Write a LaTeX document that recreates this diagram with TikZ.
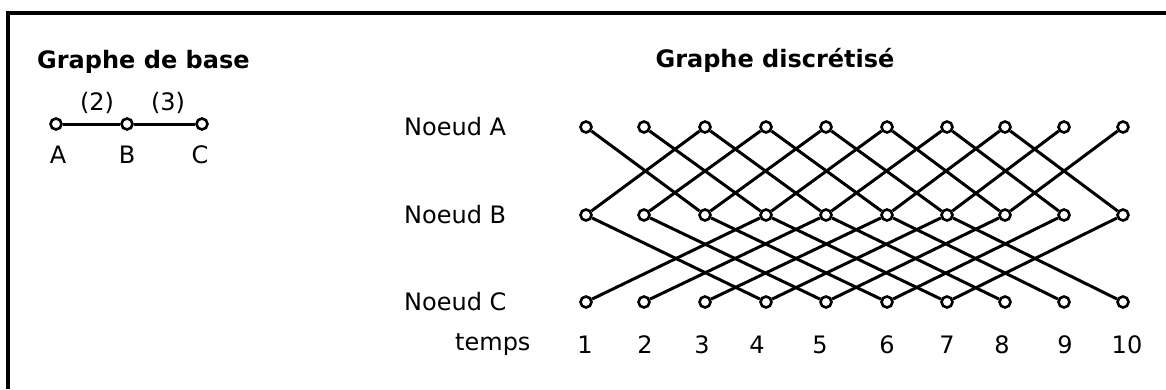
\documentclass[tikz,border=0pt]{standalone}
\usepackage{fontspec}
\setmainfont{DejaVu Sans}
\begin{document}
\begin{tikzpicture}[x=1pt,y=-1pt,
  v/.style={circle,draw,fill=white,line width=2.6pt,minimum size=11pt,inner sep=0pt},
  e/.style={line width=3pt},
  lab/.style={font=\fontsize{24}{28}\selectfont,inner sep=0pt},
  ttl/.style={font=\fontsize{24}{28}\selectfont\bfseries,inner sep=0pt}]
\useasboundingbox (0,0) rectangle (1166,389);
\draw[line width=3.5pt] (8,389) -- (8,13) -- (1166,13);
% base graph
\node[ttl,anchor=west] (t1) at (37,62) {Graphe de base};
\node[v] (bA) at (56,124) {};
\node[v] (bB) at (127,124) {};
\node[v] (bC) at (202,124) {};
\draw[e] (bA) -- (bB);
\draw[e] (bB) -- (bC);
\node[lab] (l2) at (97,103) {(2)};
\node[lab] (l3) at (168,103) {(3)};
\node[lab] (lA) at (58,155) {A};
\node[lab] (lB) at (127,155) {B};
\node[lab] (lC) at (200,155) {C};
% discretised graph
\node[ttl] (t2) at (775,60) {Graphe discrétisé};
\node[lab,anchor=west] (nA) at (404,127) {Noeud A};
\node[lab,anchor=west] (nB) at (404,215) {Noeud B};
\node[lab,anchor=west] (nC) at (404,302) {Noeud C};
\node[lab,anchor=west] (tp) at (455,345) {temps};
\foreach \i/\x in {1/586,2/644,3/705,4/766,5/826,6/887,7/947,8/1005,9/1064,10/1123} {
  \node[v] (A\i) at (\x,127) {};
  \node[v] (B\i) at (\x,215) {};
  \node[v] (C\i) at (\x,302) {};
}
\foreach \i/\x in {1/585,2/645,3/702,4/757,5/820,6/887,7/947,8/1002,9/1065,10/1127} {
  \node[lab] (T\i) at (\x,345) {\i};
}
\foreach \i in {1,...,8} {
  \pgfmathtruncatemacro\j{\i+2}
  \draw[e] (A\i) -- (B\j);
  \draw[e] (B\i) -- (A\j);
}
\foreach \i in {1,...,7} {
  \pgfmathtruncatemacro\j{\i+3}
  \draw[e] (B\i) -- (C\j);
  \draw[e] (C\i) -- (B\j);
}
\end{tikzpicture}
\end{document}
